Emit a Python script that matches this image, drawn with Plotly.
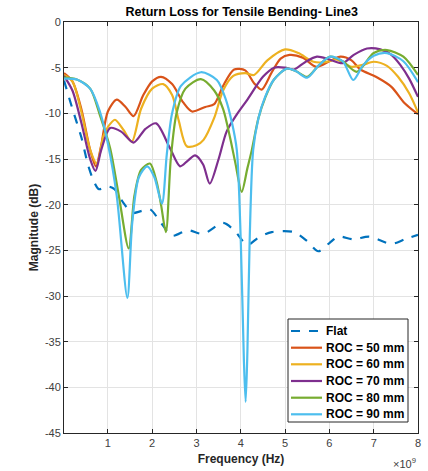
import plotly.graph_objects as go

# ---- data (frequency in GHz, magnitude in dB) ----
flat_f = [0.01, 0.2, 0.4, 0.55, 0.68, 0.8, 1.0, 1.15, 1.35, 1.55, 1.75, 1.95, 2.2, 2.45, 2.8, 3.15,
          3.6, 3.85, 4.15, 4.4, 4.7, 5.2, 5.5, 5.75, 6.0, 6.2, 6.55, 6.9, 7.4, 7.7, 8.0]
flat_db = [-6.4, -9.5, -12.6, -15.6, -17.4, -18.3, -18.0, -18.3, -19.8, -20.9, -20.7, -20.5, -22.0, -23.4, -22.8, -23.2,
           -22.0, -22.8, -24.4, -23.6, -23.0, -23.0, -24.0, -25.1, -24.2, -23.5, -23.8, -23.5, -24.3, -23.8, -23.3]

roc50_f = [0.01, 0.2, 0.4, 0.6, 0.73, 0.85, 1.0, 1.2, 1.4, 1.58, 1.8, 2.0, 2.2, 2.45, 2.7, 2.9, 3.2, 3.4, 3.6,
           3.85, 4.1, 4.3, 4.47, 4.7, 4.9, 5.1, 5.4, 5.7, 6.0, 6.25, 6.5, 6.7, 7.05, 7.4, 7.7, 8.0]
roc50_db = [-5.6, -6.5, -9.5, -14.0, -15.8, -13.5, -9.8, -8.5, -9.3, -10.3, -8.0, -6.5, -6.0, -6.8, -8.8, -9.8, -9.3,
            -9.0, -7.0, -5.2, -5.3, -6.7, -7.4, -5.5, -4.0, -3.6, -3.9, -4.9, -4.3, -3.8, -4.2, -5.2, -6.0, -7.1, -8.9, -10.1]

roc60_f = [0.01, 0.2, 0.4, 0.6, 0.75, 0.9, 1.0, 1.16, 1.35, 1.54, 1.75, 2.0, 2.25, 2.45, 2.6, 2.78, 3.0, 3.16, 3.4,
           3.6, 3.83, 4.1, 4.3, 4.6, 5.0, 5.3, 5.64, 5.9, 6.15, 6.5, 6.75, 7.0, 7.3, 7.55, 7.8, 8.0]
roc60_db = [-5.8, -6.5, -9.8, -14.0, -15.5, -12.5, -11.5, -10.7, -11.8, -13.1, -9.5, -7.3, -6.8, -8.0, -10.8, -13.6,
            -13.5, -12.9, -10.5, -7.5, -5.9, -5.6, -5.8, -4.2, -3.0, -3.4, -4.35, -4.4, -4.1, -4.9, -4.7, -4.35, -4.8,
            -6.0, -7.8, -9.9]

roc70_f = [0.01, 0.2, 0.4, 0.6, 0.72, 0.85, 1.05, 1.3, 1.58, 1.85, 2.09, 2.4, 2.63, 2.8, 2.97, 3.15, 3.3, 3.5, 3.68,
           3.9, 4.15, 4.5, 4.75, 5.0, 5.2, 5.45, 5.72, 6.0, 6.3, 6.55, 6.85, 7.15, 7.4, 7.6, 7.8, 8.0]
roc70_db = [-5.9, -7.5, -11.0, -15.0, -16.3, -14.0, -11.6, -12.0, -13.2, -11.7, -11.1, -13.8, -15.8, -15.2, -14.6,
            -15.6, -17.7, -15.0, -12.0, -10.2, -8.5, -6.0, -5.0, -5.0, -5.2, -4.4, -3.8, -4.1, -4.5, -3.6, -2.9, -3.0,
            -3.6, -4.7, -6.2, -8.2]

roc80_f = [0.01, 0.3, 0.6, 0.82, 1.05, 1.24, 1.47, 1.6, 1.75, 1.95, 2.1, 2.2, 2.31, 2.42, 2.55, 2.75, 3.1, 3.4,
           3.6, 3.76, 3.88, 4.02, 4.15, 4.25, 4.4, 4.55, 4.75, 5.04, 5.25, 5.5, 5.75, 6.02, 6.3, 6.62, 7.0, 7.3, 7.67, 8.0]
roc80_db = [-6.1, -6.3, -7.3, -10.2, -13.8, -18.8, -24.8, -19.0, -16.2, -15.5, -17.5, -20.0, -23.0, -15.0, -10.0,
            -7.3, -6.25, -7.5, -9.5, -12.7, -15.5, -18.6, -16.0, -14.0, -10.5, -8.3, -6.3, -5.1, -5.4, -6.0, -4.8,
            -3.8, -4.3, -5.45, -3.4, -3.07, -3.8, -5.8]

roc90_f = [0.01, 0.3, 0.6, 0.82, 1.0, 1.2, 1.44, 1.55, 1.7, 1.89, 2.05, 2.22, 2.33, 2.45, 2.65, 3.1, 3.46, 3.65,
           3.8, 3.91, 4.0, 4.07, 4.11, 4.15, 4.2, 4.28, 4.4, 4.55, 4.75, 5.04, 5.25, 5.5, 5.75, 6.02, 6.3, 6.54,
           6.75, 7.0, 7.3, 7.67, 8.0]
roc90_db = [-6.2, -6.3, -7.3, -9.8, -13.3, -19.0, -30.2, -22.0, -17.0, -15.8, -17.0, -19.9, -14.5, -10.0, -7.0,
            -5.5, -6.35, -8.3, -11.0, -14.0, -24.0, -37.0, -41.6, -36.0, -24.0, -14.0, -10.5, -8.2, -6.3, -5.1, -5.4,
            -6.1, -4.8, -3.8, -4.3, -6.35, -4.8, -3.7, -3.4, -4.3, -6.6]

names = ["Flat", "ROC = 50 mm", "ROC = 60 mm", "ROC = 70 mm", "ROC = 80 mm", "ROC = 90 mm"]
freqs = [flat_f, roc50_f, roc60_f, roc70_f, roc80_f, roc90_f]
mags = [flat_db, roc50_db, roc60_db, roc70_db, roc80_db, roc90_db]
colors = ["#0072BD", "#D95319", "#EDB120", "#7E2F8E", "#77AC30", "#4DBEEE"]
dashes = ["dash", "solid", "solid", "solid", "solid", "solid"]

x_ticks = [1, 2, 3, 4, 5, 6, 7, 8]
y_ticks = [0, -5, -10, -15, -20, -25, -30, -35, -40, -45]

FONT = "Liberation Sans, Arial, Helvetica, sans-serif"

# plot-area geometry in pixels (for the hand-drawn legend)
W, H = 428, 471
L, R, T, B = 64, 10, 22, 38
PW, PH = W - L - R, H - T - B


def px(x):
    return (x - L) / PW


def py(y):
    return (H - B - y) / PH


fig = go.Figure()
for name, f, db, color, dash in zip(names, freqs, mags, colors, dashes):
    fig.add_trace(go.Scatter(
        x=[v * 1e9 for v in f], y=db, mode="lines", name=name, showlegend=False,
        line=dict(color=color, width=2.2, dash=dash, shape="spline", smoothing=0.8),
    ))

axis_common = dict(
    showline=True, linecolor="#262626", linewidth=1, mirror="ticks",
    ticks="inside", ticklen=4, tickcolor="#262626",
    showgrid=True, gridcolor="#e3e3e3", gridwidth=1,
    zeroline=False, automargin=False,
    tickfont=dict(family=FONT, size=11, color="#404040"),
)

fig.update_layout(
    width=W, height=H,
    margin=dict(l=L, r=R, t=T, b=B),
    paper_bgcolor="white", plot_bgcolor="white",
    font=dict(family=FONT, color="#262626"),
    title=dict(text="<b>Return Loss for Tensile Bending- Line3</b>", x=0.565, xanchor="center",
               y=0.975, yanchor="middle", font=dict(family=FONT, size=12.5, color="#000000")),
    xaxis=dict(range=[0.01e9, 8e9], tickvals=[v * 1e9 for v in x_ticks], ticktext=[str(v) for v in x_ticks],
               title=dict(text="<b>Frequency (Hz)</b>", font=dict(family=FONT, size=12, color="#262626"), standoff=6),
               **axis_common),
    yaxis=dict(range=[-45, 0], tickvals=y_ticks, ticktext=[str(v) for v in y_ticks],
               title=dict(text="<b>Magnitude (dB)</b>", font=dict(family=FONT, size=12, color="#262626"), standoff=3),
               **axis_common),
    showlegend=False,
)

# legend box drawn with shapes + text annotations
fig.add_shape(type="rect", xref="paper", yref="paper",
              x0=px(288), x1=px(408), y0=py(422), y1=py(319),
              line=dict(color="#262626", width=1), fillcolor="white", layer="above")
row_y = [331, 347.7, 364.3, 381, 397.7, 414.3]
for name, color, dash, yy in zip(names, colors, dashes, row_y):
    fig.add_shape(type="line", xref="paper", yref="paper",
                  x0=px(291), x1=px(322), y0=py(yy), y1=py(yy),
                  line=dict(color=color, width=2.2, dash=dash), layer="above")
    fig.add_annotation(text="<b>" + name + "</b>", xref="paper", yref="paper",
                       x=px(324), y=py(yy), xanchor="left", yanchor="middle", showarrow=False,
                       font=dict(family=FONT, size=12, color="#000000"))

fig.add_annotation(text="×10<sup>9</sup>", xref="paper", yref="paper", x=1.0, y=-0.05,
                   xanchor="right", yanchor="top", showarrow=False,
                   font=dict(family=FONT, size=11, color="#404040"))

fig.write_html("out.html", config={"displayModeBar": False},
               post_script="document.body.style.margin='0';document.body.style.padding='0';")
